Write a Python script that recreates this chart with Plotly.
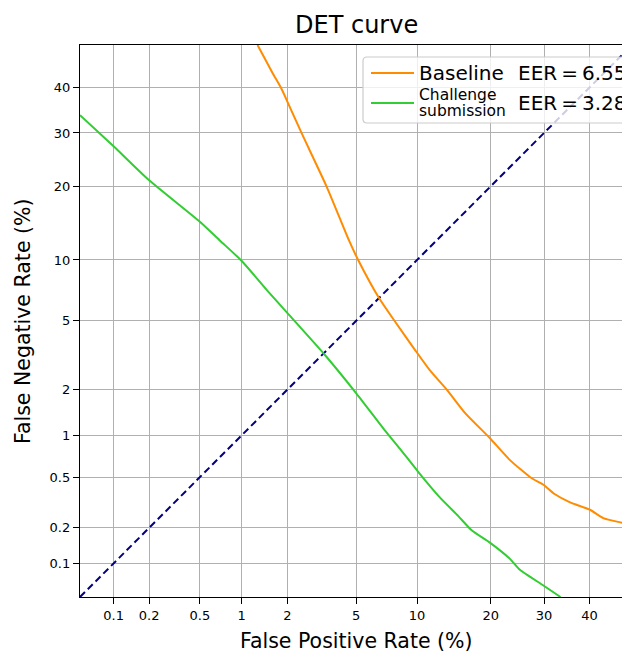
import plotly.graph_objects as go
from statistics import NormalDist

# ---------------- data (percent) ----------------
baseline_fpr = [1.28, 1.6, 1.84, 2.02, 2.45, 3.44, 4.58, 5.13, 6.59, 7.9, 9.8, 11.4, 13.5, 16.0,
                19.9, 23.3, 27.5, 29.8, 32.3, 35.6, 40.1, 43.2, 47.6, 50.0]
baseline_fnr = [50.0, 43.5, 39.6, 36.4, 29.9, 19.9, 12.2, 10.0, 6.55, 4.95, 3.45, 2.63, 1.99, 1.41,
                0.95, 0.67, 0.49, 0.44, 0.37, 0.32, 0.28, 0.24, 0.22, 0.21]

challenge_fpr = [0.05, 0.1, 0.2, 0.5, 0.7, 1.0, 1.5, 2.0, 3.36, 5.0, 7.0, 8.3, 10.1, 12.6, 15.0,
                 17.0, 19.9, 23.3, 25.2, 29.8, 33.5]
challenge_fnr = [33.8, 27.3, 21.0, 14.6, 12.2, 9.9, 7.1, 5.5, 3.23, 1.9, 1.09, 0.81, 0.55, 0.35, 0.25,
                 0.19, 0.15, 0.11, 0.088, 0.064, 0.05]

diag_vals = [0.05, 50.0]

tick_vals = [0.1, 0.2, 0.5, 1, 2, 5, 10, 20, 30, 40]
tick_text = ["0.1", "0.2", "0.5", "1", "2", "5", "10", "20", "30", "40"]

eer_baseline = "6.55"
eer_challenge = "3.28"

# ---------------- probit scale ----------------
nd = NormalDist()


def probit(vals):
    return [nd.inv_cdf(v / 100.0) for v in vals]


FONT = "DejaVu Sans"
W, H = 622, 653
ML, MT, MB, MR = 80, 45, 56, 0
plot_w = W - ML - MR
plot_h = H - MT - MB

y_lo = nd.inv_cdf(0.0005)
y_hi = 0.0
scale = plot_h / (y_hi - y_lo)
x_lo = y_lo
x_hi = x_lo + plot_w / scale

fig = go.Figure()

fig.add_trace(go.Scatter(x=probit(diag_vals), y=probit(diag_vals), mode="lines",
                         line=dict(color="#000080", width=2, dash="7px,4px"),
                         showlegend=False, hoverinfo="skip"))
fig.add_trace(go.Scatter(x=probit(baseline_fpr), y=probit(baseline_fnr), mode="lines",
                         name="Baseline", line=dict(color="#ff8c00", width=2, shape="spline", smoothing=0.6),
                         showlegend=False))
fig.add_trace(go.Scatter(x=probit(challenge_fpr), y=probit(challenge_fnr), mode="lines",
                         name="Challenge submission", line=dict(color="#32cd32", width=2, shape="spline", smoothing=0.6),
                         showlegend=False))

axis_common = dict(
    showgrid=True, gridcolor="#b0b0b0", gridwidth=1.2,
    zeroline=False, showline=True, linecolor="black", linewidth=1.3,
    ticks="outside", ticklen=6, tickwidth=1.3, tickcolor="black",
    tickfont=dict(family=FONT, size=13, color="black"),
    automargin=False,
)

fig.update_xaxes(range=[x_lo, x_hi], tickvals=probit(tick_vals), ticktext=tick_text,
                 mirror=True, **axis_common)
fig.update_yaxes(range=[y_lo, y_hi], tickvals=probit(tick_vals), ticktext=tick_text,
                 mirror=False, **axis_common)


def px_x(px):
    return (px - ML) / plot_w


def px_y(py):
    return (H - MB - py) / plot_h


annotations = [
    dict(text="DET curve", x=px_x(356), y=px_y(25), xref="paper", yref="paper",
         showarrow=False, xanchor="center", yanchor="middle",
         font=dict(family=FONT, size=24, color="black")),
    dict(text="False Positive Rate (%)", x=px_x(356), y=px_y(641), xref="paper", yref="paper",
         showarrow=False, xanchor="center", yanchor="middle",
         font=dict(family=FONT, size=20.5, color="black")),
    dict(text="False Negative Rate (%)", x=px_x(23), y=px_y(321), xref="paper", yref="paper",
         showarrow=False, xanchor="center", yanchor="middle", textangle=-90,
         font=dict(family=FONT, size=20.5, color="black")),
    dict(text="Baseline", x=px_x(417), y=px_y(73), xref="paper", yref="paper",
         showarrow=False, xanchor="left", yanchor="middle",
         font=dict(family=FONT, size=20, color="black")),
    dict(text="EER\u2009=\u2009" + eer_baseline, x=px_x(516), y=px_y(73), xref="paper", yref="paper",
         showarrow=False, xanchor="left", yanchor="middle",
         font=dict(family=FONT, size=20, color="black")),
    dict(text="Challenge", x=px_x(417), y=px_y(95), xref="paper", yref="paper",
         showarrow=False, xanchor="left", yanchor="middle",
         font=dict(family=FONT, size=15.5, color="black")),
    dict(text="submission", x=px_x(417), y=px_y(111), xref="paper", yref="paper",
         showarrow=False, xanchor="left", yanchor="middle",
         font=dict(family=FONT, size=15.5, color="black")),
    dict(text="EER\u2009=\u2009" + eer_challenge, x=px_x(516), y=px_y(103), xref="paper", yref="paper",
         showarrow=False, xanchor="left", yanchor="middle",
         font=dict(family=FONT, size=20, color="black")),
]

# legend box with rounded corners (paper coordinates)
bx0, bx1, by0, by1 = px_x(363), px_x(700), px_y(123), px_y(57)
rx, ry = 4 / plot_w, 4 / plot_h
path = (f"M {bx0+rx},{by1} L {bx1-rx},{by1} Q {bx1},{by1} {bx1},{by1-ry} "
        f"L {bx1},{by0+ry} Q {bx1},{by0} {bx1-rx},{by0} L {bx0+rx},{by0} "
        f"Q {bx0},{by0} {bx0},{by0+ry} L {bx0},{by1-ry} Q {bx0},{by1} {bx0+rx},{by1} Z")
shapes = [
    dict(type="path", path=path, xref="paper", yref="paper",
         fillcolor="rgba(255,255,255,0.8)", line=dict(color="#cccccc", width=1.2), layer="above"),
    dict(type="line", xref="paper", yref="paper", x0=px_x(371), x1=px_x(414), y0=px_y(73), y1=px_y(73),
         line=dict(color="#ff8c00", width=2), layer="above"),
    dict(type="line", xref="paper", yref="paper", x0=px_x(371), x1=px_x(414), y0=px_y(103), y1=px_y(103),
         line=dict(color="#32cd32", width=2), layer="above"),
]

fig.update_layout(
    width=W, height=H,
    margin=dict(l=ML, r=MR, t=MT, b=MB, pad=0),
    paper_bgcolor="white", plot_bgcolor="white",
    annotations=annotations, shapes=shapes,
    showlegend=False,
)

fig.write_html("out.html", config={"displayModeBar": False},
               post_script="document.body.style.margin='0';document.body.style.overflow='hidden';")
